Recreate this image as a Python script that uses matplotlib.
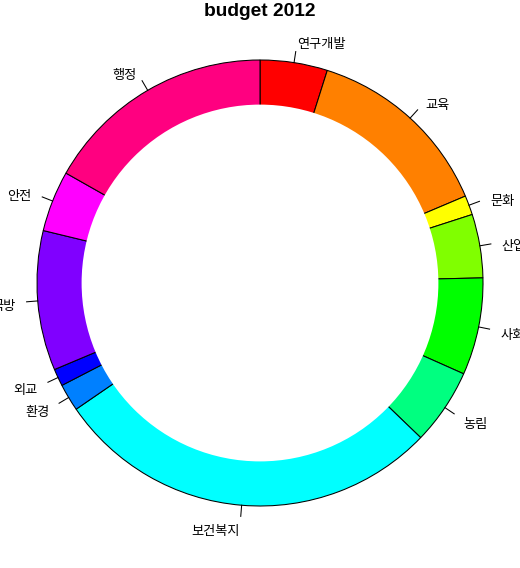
import numpy as np
import matplotlib
matplotlib.use("Agg")
import matplotlib.pyplot as plt
from matplotlib.patches import Circle

plt.rcParams['font.family'] = ['Noto Sans CJK KR', 'DejaVu Sans']

labels = ['연구개발', '교육', '문화', '산업', '사회', '농림',
          '보건복지', '환경', '외교', '국방', '안전', '행정']
budget = [16.0, 45.1, 4.6, 15.1, 23.1, 18.1, 92.6, 6.5, 4.1, 33.2, 14.5, 55.1]
colors = ['#FF0000', '#FF8000', '#FFFF00', '#80FF00', '#00FF00', '#00FF80',
          '#00FFFF', '#0080FF', '#0000FF', '#8000FF', '#FF00FF', '#FF0080']

W, H = 520, 568
cx, cy, r = 260, 283, 223  # pixel centre and radius

fig = plt.figure(figsize=(W / 100, H / 100), dpi=100)
ax = fig.add_axes([0, 0, 1, 1])

wedges, _ = ax.pie(budget, colors=colors, startangle=90, counterclock=False,
                   radius=1.0, wedgeprops=dict(edgecolor='black', linewidth=0.75))
ax.add_patch(Circle((0, 0), 0.8, facecolor='white', edgecolor='none', zorder=5))

# R draws the labels a few pixels lower than the geometric centre
dy = -4 / r
for w, lab in zip(wedges, labels):
    mid = np.deg2rad((w.theta1 + w.theta2) / 2)
    c, s = np.cos(mid), np.sin(mid)
    ax.plot([c, 1.05 * c], [s, 1.05 * s], color='black', lw=0.75)
    ax.text(1.1 * c, 1.1 * s + dy, lab, ha='left' if c > 0 else 'right',
            va='center', fontsize=9.5)

ax.set_xlim(-cx / r, (W - cx) / r)
ax.set_ylim(-(H - cy) / r, cy / r)
ax.set_aspect('auto')
ax.axis('off')

fig.text(0.5, 1 - 16 / H, 'budget 2012', ha='center', va='baseline',
         fontsize=13.8, fontweight='bold', family='Liberation Sans')

fig.savefig('out.png', dpi=100)
